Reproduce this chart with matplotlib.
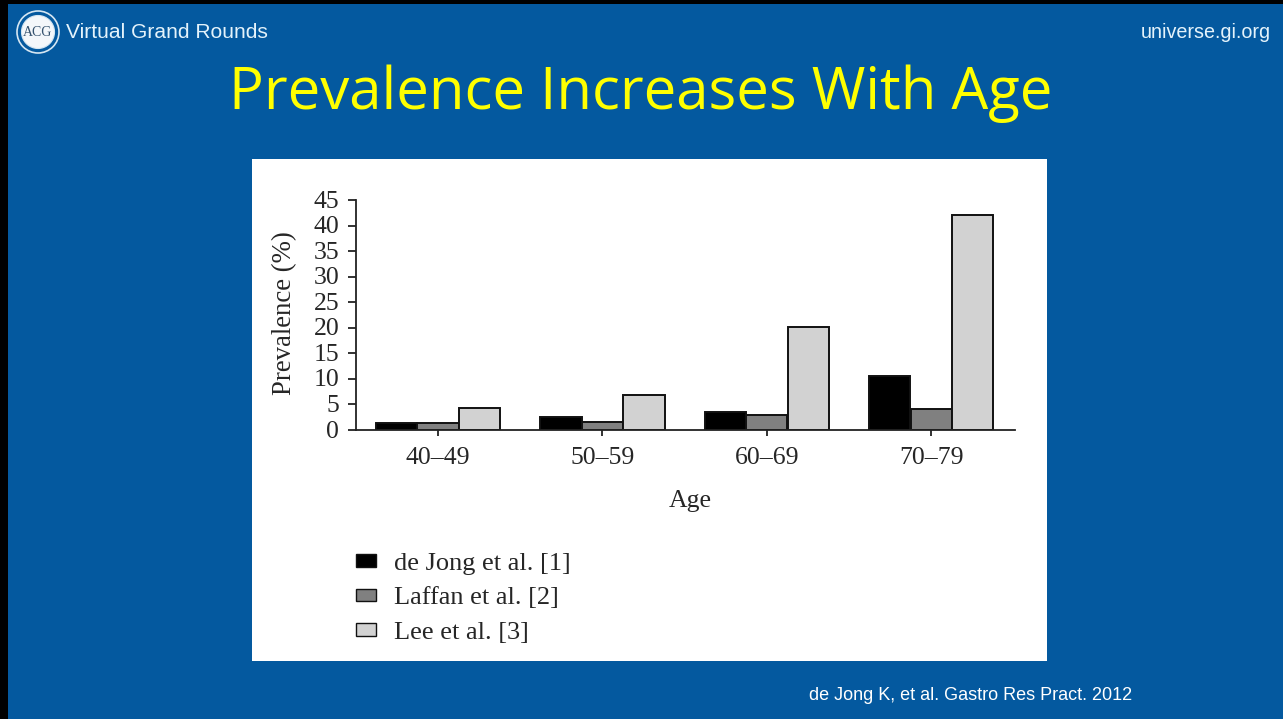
import matplotlib
matplotlib.use("Agg")
import matplotlib.pyplot as plt
import numpy as np
from matplotlib.patches import Rectangle, Circle
from matplotlib.transforms import ScaledTranslation

W, H = 1283, 719
age_groups = ["40–49", "50–59", "60–69", "70–79"]
de_jong = [1.3, 2.6, 3.6, 10.6]
laffan = [1.4, 1.6, 2.9, 4.1]
lee = [4.4, 6.8, 20.2, 42.0]
y_ticks = [0, 5, 10, 15, 20, 25, 30, 35, 40, 45]
series_names = ["de Jong et al. [1]", "Laffan et al. [2]", "Lee et al. [3]"]
series_colors = ["#000000", "#808080", "#d2d2d2"]
BLUE = "#04599f"
SERIF = "Liberation Serif"
SANS = "Liberation Sans"
TXT = "#262626"

fig = plt.figure(figsize=(W / 100, H / 100), dpi=100, facecolor=BLUE)

def fx(x): return x / W
def fy(y): return 1 - y / H

# slide frame and white panel
fig.add_artist(Rectangle((0, fy(4)), 1, 4 / H, transform=fig.transFigure, fc="black", ec="none", zorder=0))
fig.add_artist(Rectangle((0, 0), 8 / W, 1, transform=fig.transFigure, fc="black", ec="none", zorder=0))
fig.add_artist(Rectangle((fx(252), fy(661)), 795 / W, 502 / H, transform=fig.transFigure, fc="white", ec="none", zorder=0))

# axes: spine at x=356, baseline y=430, top y=200
ax = fig.add_axes([fx(356), fy(430), (1015 - 356) / W, 230 / H], facecolor="none", zorder=5)
x = np.arange(len(age_groups))
px = 164.4
bw = 41.4 / px
ax.set_xlim((356 - 438) / px, (1015 - 438) / px)
ax.set_ylim(0, 45)
bars = []
for off, vals, c, name in zip([-1, 0, 1], [de_jong, laffan, lee], series_colors, series_names):
    bars.append(ax.bar(x + off * bw, vals, bw, color=c, edgecolor="#111111", linewidth=1.4, label=name, zorder=3))
ax.spines["top"].set_visible(False)
ax.spines["right"].set_visible(False)
for s in ("left", "bottom"):
    ax.spines[s].set_linewidth(1.3)
    ax.spines[s].set_color("#222222")
    ax.spines[s].set_zorder(4)
ax.set_xticks(x, age_groups, fontfamily=SERIF, fontsize=18.5, color=TXT)
ax.set_yticks(y_ticks, [str(v) for v in y_ticks], fontfamily=SERIF, fontsize=18.5, color=TXT)
ax.tick_params(axis="y", length=5.5, width=1.3, pad=6.5, color="#222222")
ax.tick_params(axis="x", length=4, width=1.3, pad=8, color="#222222")
nudge = ScaledTranslation(0, -1.5 / 100, fig.dpi_scale_trans)
for lab in ax.get_yticklabels():
    lab.set_verticalalignment("center")
    lab.set_transform(lab.get_transform() + nudge)
fig.text(fx(690), fy(501), "Age", fontfamily=SERIF, fontsize=18.5, color=TXT, ha="center", va="center", zorder=6)
fig.text(fx(285), fy(313), "Prevalence (%)", fontfamily=SERIF, fontsize=19.3, color=TXT,
         ha="center", va="center", rotation=90, zorder=6)

# legend
leg = fig.legend(handles=[b[0] for b in bars], labels=series_names, loc="upper left",
                 bbox_to_anchor=(fx(332), fy(529)), frameon=False, ncol=1,
                 prop={"family": SERIF, "size": 19}, labelcolor=TXT,
                 handlelength=0.76, handleheight=0.35, handletextpad=0.68, labelspacing=0.48)
leg.set_zorder(6)
for h in leg.legend_handles:
    h.set_linewidth(1.0)

# header
fig.add_artist(Circle((38, H - 32), 21, transform=None, fc=BLUE, ec="#d5e6f2", lw=1.2, zorder=2))
fig.add_artist(Circle((38, H - 32), 16.5, transform=None, fc="#f4f7fa", ec="#d5e6f2", lw=0.8, zorder=2))
fig.text(fx(38), fy(32), "ACG", fontfamily=SERIF, fontsize=10, color="#35526e", ha="center", va="center", zorder=6)
fig.text(fx(66), fy(33), "Virtual Grand Rounds", fontfamily=SANS, fontsize=15.1, color="#e4f3fb", ha="left", va="center", zorder=6)
fig.text(fx(1271), fy(33), "universe.gi.org", fontfamily=SANS, fontsize=14.2, color="#e4f3fb", ha="right", va="center", zorder=6)
fig.text(fx(641), fy(94), "Prevalence Increases With Age", fontfamily="Open Sans", fontsize=41.9,
         color="#ffff00", ha="center", va="center", zorder=6)
fig.text(fx(809), fy(696), "de Jong K, et al. Gastro Res Pract. 2012", fontfamily=SANS, fontsize=12.95,
         color="white", ha="left", va="center", zorder=6)

fig.savefig("out.png", dpi=100, facecolor=fig.get_facecolor())
